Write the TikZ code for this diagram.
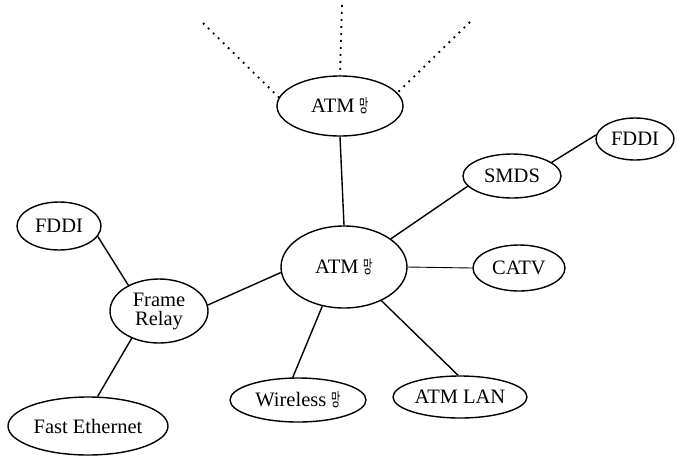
\documentclass[tikz,border=0pt]{standalone}
\usepackage{fontspec}
\usepackage{graphicx}
\setmainfont{Liberation Serif}
\newfontfamily\krfont{Noto Sans CJK KR}
\usetikzlibrary{shapes.geometric}
% narrow Korean syllable set beside Latin text
\newcommand{\mang}{\ {\krfont\fontsize{18}{18}\selectfont\scalebox{0.55}[1]{망}}}
\tikzset{
  net/.style={ellipse, draw, line width=1.4pt, inner sep=0pt,
    font=\fontsize{20.5}{22}\selectfont, align=center},
  link/.style={line width=1.4pt},
  uplink/.style={line width=1.8pt, dash pattern=on 1.8pt off 5.2pt}
}
\begin{document}
\begin{tikzpicture}[x=1pt, y=-1pt]
  \useasboundingbox (0,0) rectangle (677,456);

  % networks
  \node[net, minimum width=126pt, minimum height=60pt] (top) at (340,106) {ATM\mang};
  \node[net, minimum width=126pt, minimum height=82pt] (ctr) at (344,267) {ATM\mang};
  \node[net, minimum width=98pt, minimum height=44pt] (smds) at (512,176) {SMDS};
  \node[net, minimum width=78pt, minimum height=42pt] (fddiR) at (635,139) {FDDI};
  \node[net, minimum width=92pt, minimum height=46pt] (catv) at (519,268) {CATV};
  \node[net, minimum width=134pt, minimum height=42pt] (atmlan) at (460,397) {ATM LAN};
  \node[net, minimum width=136pt, minimum height=44pt] (wl) at (298,400) {Wireless\mang};
  \node[net, minimum width=98pt, minimum height=64pt] (fr) at (159,311) {Frame\\[-3pt]Relay};
  \node[net, minimum width=84pt, minimum height=48pt] (fddiL) at (59,226) {FDDI};
  \node[net, minimum width=160pt, minimum height=58pt] (fe) at (88,426) {Fast Ethernet};

  % open-ended uplinks above the upper ATM network
  \coordinate (upL) at (203,23);
  \coordinate (upM) at (342,5);
  \coordinate (upR) at (470,22);
  \draw[uplink] (upL) -- (top.172);
  \draw[uplink] (upM) -- (top.north);
  \draw[uplink] (upR) -- (top.13);

  % links
  \draw[link] (top.south) -- (ctr.north);
  \draw[link] (ctr.31) -- (smds.193);
  \draw[link] (smds.19) -- (fddiR.174);
  \draw[line width=0.9pt] (ctr.east) -- (catv.west);
  \draw[link] (ctr.318) -- (atmlan.95);
  \draw[link] (ctr.241) -- (wl.103);
  \draw[link] (ctr.185) -- (fr.7);
  \draw[link] (fr.140) -- (fddiL.345);
  \draw[link] (fr.225) -- (fe.72);
\end{tikzpicture}
\end{document}
